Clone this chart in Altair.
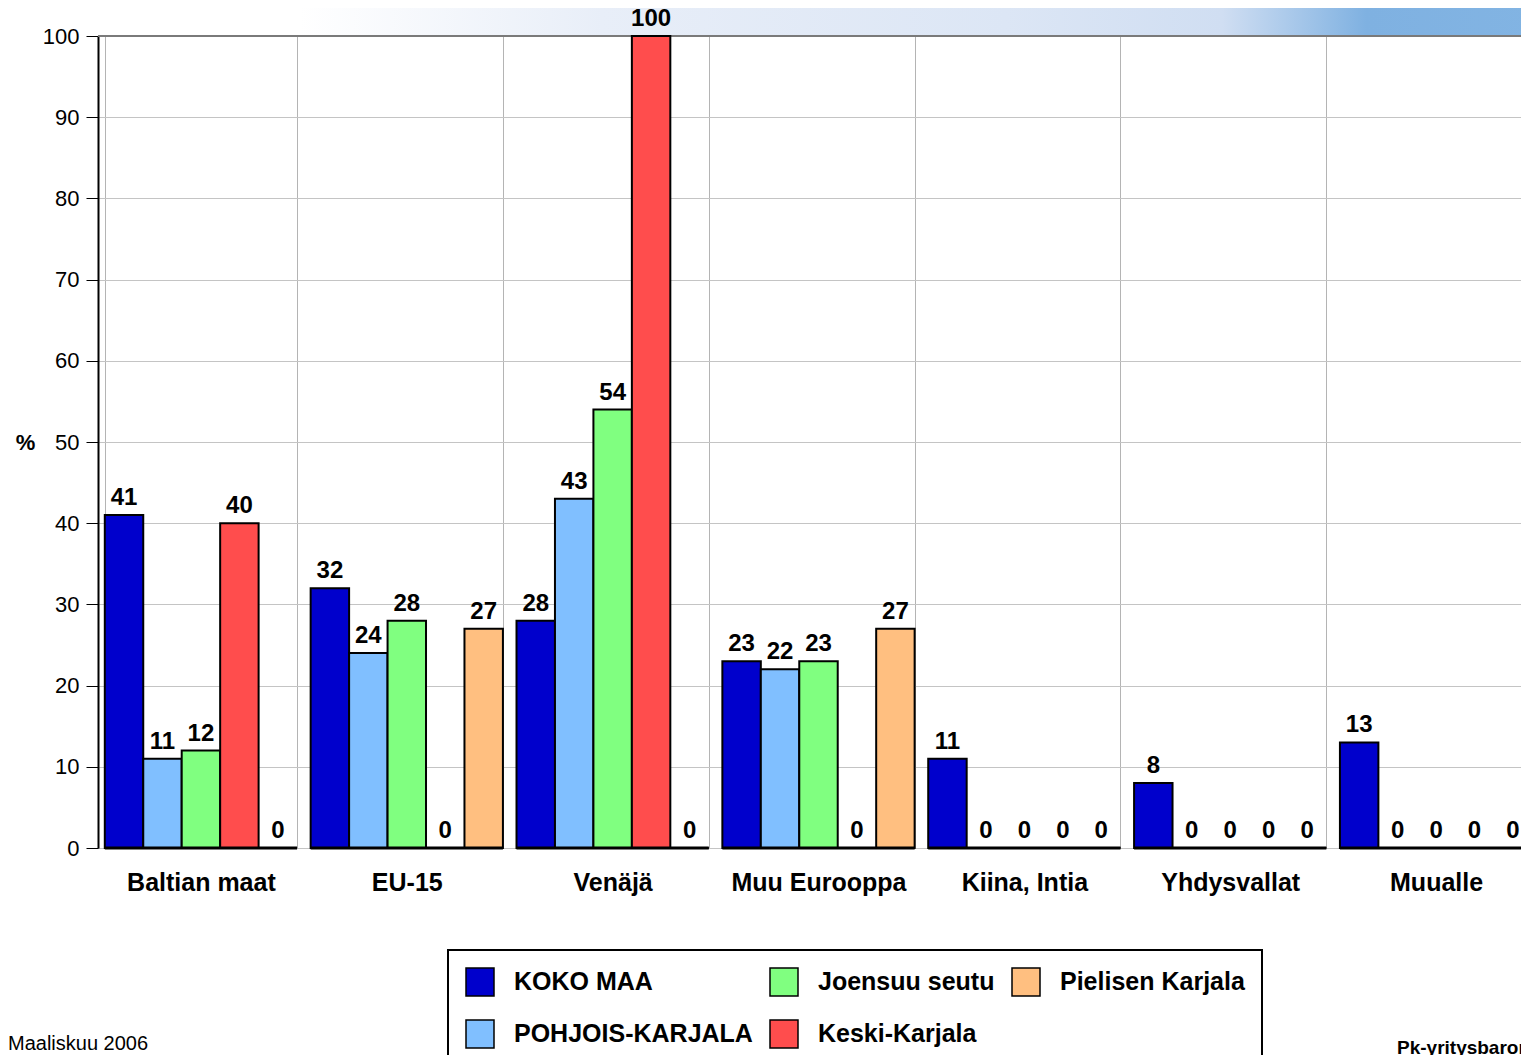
import altair as alt
import pandas as pd

categories = ["Baltian maat", "EU-15", "Venäjä", "Muu Eurooppa", "Kiina, Intia", "Yhdysvallat", "Muualle"]
series = ["KOKO MAA", "POHJOIS-KARJALA", "Joensuu seutu", "Keski-Karjala", "Pielisen Karjala"]
koko_maa = [41, 32, 28, 23, 11, 8, 13]
pohjois_karjala = [11, 24, 43, 22, 0, 0, 0]
joensuun_seutu = [12, 28, 54, 23, 0, 0, 0]
keski_karjala = [40, 0, 100, 0, 0, 0, 0]
pielisen_karjala = [0, 27, 0, 27, 0, 0, 0]
colors = ["#0000cc", "#80bfff", "#80ff80", "#ff4d4d", "#ffbf80"]
y_ticks = list(range(0, 101, 10))
footer_left = "Maaliskuu 2006"
footer_right = "Pk-yritysbarometri"

rows = []
for s, vals in zip(series, [koko_maa, pohjois_karjala, joensuun_seutu, keski_karjala, pielisen_karjala]):
    for c, v in zip(categories, vals):
        rows.append({"Alue": c, "Sarja": s, "Arvo": v})
df = pd.DataFrame(rows)

W = 1441
H = 812

x_enc = alt.X(
    "Alue:N", sort=categories, title=None,
    scale=alt.Scale(paddingInner=0.066, paddingOuter=0.033),
    axis=alt.Axis(tickBand="extent", grid=True, gridColor="#b4b4b4", gridWidth=1,
                  ticks=False, tickSize=0, domain=False, labelFontSize=25,
                  labelFontWeight="bold", labelColor="black", labelPadding=22, labelAngle=0),
)
xo_enc = alt.XOffset("Sarja:N", sort=series, scale=alt.Scale(paddingInner=0, paddingOuter=0))
y_enc = alt.Y(
    "Arvo:Q", scale=alt.Scale(domain=[0, 100], nice=False),
    axis=alt.Axis(values=y_ticks, title="%", titleAngle=0, titleFontSize=22, titleFontWeight="bold",
                  titleX=-73, titleY=406, titleAlign="center", titleBaseline="middle", titleColor="black",
                  grid=True, gridColor="#c4c4c4", domainColor="black", domainWidth=2,
                  tickColor="black", tickSize=12, labelFontSize=22, labelColor="black", labelPadding=7),
)

bg = alt.Chart(pd.DataFrame({"k": [0]})).mark_rect(
    fill=alt.Gradient(
        gradient="linear", x1=0, x2=1, y1=0, y2=0,
        stops=[
            alt.GradientStop(color="#ffffff", offset=0),
            alt.GradientStop(color="#ffffff", offset=0.14),
            alt.GradientStop(color="#e8eef8", offset=0.35),
            alt.GradientStop(color="#dce6f5", offset=0.63),
            alt.GradientStop(color="#d0def2", offset=0.78),
            alt.GradientStop(color="#a8c8ea", offset=0.83),
            alt.GradientStop(color="#7fb1e1", offset=0.88),
            alt.GradientStop(color="#82b4e3", offset=1),
        ],
    )
).encode(x=alt.value(0), x2=alt.value(W), y=alt.value(-28), y2=alt.value(0))

top_rule = alt.Chart(pd.DataFrame({"k": [0]})).mark_rule(color="#7a7a7a", strokeWidth=2).encode(
    y=alt.datum(100)
)

bars = alt.Chart(df).mark_bar(stroke="black", strokeWidth=2).encode(
    x=x_enc,
    xOffset=xo_enc,
    y=y_enc,
    color=alt.Color(
        "Sarja:N",
        scale=alt.Scale(domain=series, range=colors),
        legend=alt.Legend(
            title=None, orient="none", legendX=350, legendY=914, columns=3,
            symbolType="square", symbolSize=784, symbolStrokeColor="black", symbolStrokeWidth=1.5,
            symbolOpacity=1, labelFontSize=25, labelFontWeight="bold", labelColor="black",
            labelOffset=19, columnPadding=14, rowPadding=18, padding=17,
            strokeColor="black", fillColor="white", labelLimit=500,
        ),
    ),
)

base_line = alt.Chart(pd.DataFrame({"Alue": categories})).mark_rect(
    stroke="black", strokeWidth=3, fill="black"
).encode(
    x=alt.X("Alue:N", sort=categories),
    y=alt.datum(0),
    y2=alt.datum(0),
)

labels = alt.Chart(df).mark_text(
    dy=-10, baseline="alphabetic", fontSize=24, fontWeight="bold", color="black"
).encode(
    x=alt.X("Alue:N", sort=categories),
    xOffset=xo_enc,
    y=alt.Y("Arvo:Q"),
    text=alt.Text("Arvo:Q"),
)

foot_l = alt.Chart(pd.DataFrame({"t": [footer_left]})).mark_text(
    align="left", baseline="alphabetic", fontSize=20, color="black"
).encode(x=alt.value(-90), y=alt.value(1014), text="t:N")

foot_r = alt.Chart(pd.DataFrame({"t": [footer_right]})).mark_text(
    align="left", baseline="alphabetic", fontSize=19, fontWeight="bold", color="black"
).encode(x=alt.value(1299), y=alt.value(1018), text="t:N")

chart = alt.layer(bg, top_rule, bars, base_line, labels, foot_l, foot_r).properties(
    width=W, height=H,
    autosize=alt.AutoSizeParams(type="none"),
    padding={"left": 90, "top": 28, "right": -18, "bottom": 207},
    background="white",
).configure(
    font="Liberation Sans"
).configure_view(
    stroke="transparent"
).configure_legend(
    strokeWidth=2
)

chart.save("out.html", embed_options={"renderer": "svg", "actions": False})
